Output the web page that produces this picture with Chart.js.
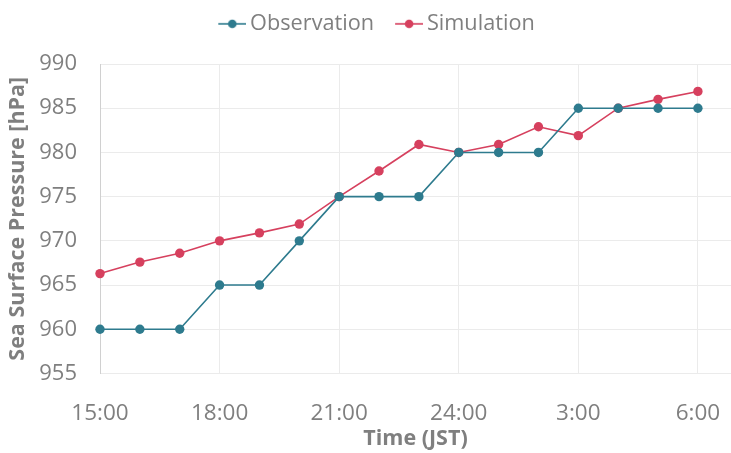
<!DOCTYPE html>
<html>
<head>
<meta charset="utf-8">
<script src="https://cdn.jsdelivr.net/npm/chart.js@4/dist/chart.umd.min.js"></script>
<style>
  html, body { margin: 0; padding: 0; background: #ffffff; }
  #wrap { width: 731px; height: 453px; }
</style>
</head>
<body>
<div id="wrap"><canvas id="c" width="731" height="453"></canvas></div>
<script>
// Hours since 15:00 JST (15:00 ... 6:00 next day)
const hours = [0, 1, 2, 3, 4, 5, 6, 7, 8, 9, 10, 11, 12, 13, 14, 15];
// Sea surface pressure [hPa]
const observation = [960, 960, 960, 965, 965, 970, 975, 975, 975, 980, 980, 980, 985, 985, 985, 985];
const simulation  = [966.3, 967.6, 968.6, 970, 970.9, 971.9, 975, 977.9, 980.9, 980, 980.9, 982.9, 981.9, 985, 986, 986.9];
// Labels shown on the time axis every 3 hours
const tickHours  = [0, 3, 6, 9, 12, 15];
const tickLabels = ['15:00', '18:00', '21:00', '24:00', '3:00', '6:00'];
const yTicks = [955, 960, 965, 970, 975, 980, 985, 990];

const FONT = "'Open Sans', sans-serif";
const GREY = '#7f7f7f';
const OBS_COLOR = '#2e7b8e';
const SIM_COLOR = '#d6405e';

const MARK_BOX = 29;          // legend marker slot width
// Legend marker: short line with a dot, sitting close to its label
function legendMarker(color) {
  const cv = document.createElement('canvas');
  cv.width = MARK_BOX + 14; cv.height = 10;
  const g = cv.getContext('2d');
  const x1 = MARK_BOX + 14, x0 = x1 - 28;
  g.strokeStyle = color; g.lineWidth = 1.6;
  g.beginPath(); g.moveTo(x0, 5); g.lineTo(x1, 5); g.stroke();
  g.fillStyle = color;
  g.beginPath(); g.arc((x0 + x1) / 2, 5, 4.3, 0, Math.PI * 2); g.fill();
  return cv;
}

// Extra room between the legend and the plot area, and a small shift to the right
const legendGap = {
  id: 'legendGap',
  beforeLayout(chart) {
    const lg = chart.legend;
    if (lg && !lg._gapAdded) {
      const fit = lg.fit;
      lg.fit = function () {
        fit.apply(this, arguments);
        this.height += 19.3;
        if (this.lineWidths && this.lineWidths.length) this.lineWidths[0] -= 14;
      };
      lg._gapAdded = true;
    }
  }
};

const toPoints = vals => vals.map((v, i) => ({ x: hours[i], y: v }));

new Chart(document.getElementById('c'), {
  type: 'line',
  data: {
    datasets: [
      {
        label: 'Observation',
        data: toPoints(observation),
        borderColor: OBS_COLOR,
        backgroundColor: OBS_COLOR,
        borderWidth: 1.6,
        pointRadius: 4.7,
        pointBorderWidth: 0,
        pointStyle: 'circle',
        tension: 0,
        clip: false
      },
      {
        label: 'Simulation',
        data: toPoints(simulation),
        borderColor: SIM_COLOR,
        backgroundColor: SIM_COLOR,
        borderWidth: 1.6,
        pointRadius: 4.7,
        pointBorderWidth: 0,
        pointStyle: 'circle',
        tension: 0,
        clip: false
      }
    ]
  },
  options: {
    responsive: false,
    animation: false,
    devicePixelRatio: 1,
    layout: { autoPadding: false, padding: { top: 0, left: 0, right: 0, bottom: 0 } },
    plugins: {
      legend: {
        display: true,
        position: 'top',
        align: 'center',
        labels: {
          usePointStyle: true,
          pointStyleWidth: MARK_BOX,
          padding: 13,
          color: GREY,
          font: { family: FONT, size: 21.7 },
          generateLabels(chart) {
            return chart.data.datasets.map((ds, i) => ({
              text: ds.label,
              fillStyle: ds.borderColor,
              strokeStyle: ds.borderColor,
              fontColor: GREY,
              lineWidth: 0,
              pointStyle: legendMarker(ds.borderColor),
              hidden: false,
              datasetIndex: i
            }));
          }
        }
      },
      tooltip: { enabled: false }
    },
    scales: {
      x: {
        type: 'linear',
        min: 0,
        max: 15.83,
        afterBuildTicks(scale) {
          scale.ticks = tickHours.map(v => ({ value: v }));
        },
        afterFit(scale) {
          scale.height = 79.5;
          scale.paddingLeft = 0;
          scale.paddingRight = 0;
        },
        ticks: {
          padding: 26.5,
          color: GREY,
          font: { family: FONT, size: 22.5 },
          callback(value) {
            const k = tickHours.indexOf(value);
            return k >= 0 ? tickLabels[k] : '';
          }
        },
        grid: { color: '#ebebeb', lineWidth: 1, drawTicks: false },
        border: { display: false },
        title: {
          display: true,
          text: 'Time (JST)',
          color: GREY,
          font: { family: FONT, size: 21.5, weight: 'bold' },
          padding: { top: 0, bottom: 1 }
        }
      },
      y: {
        min: 955,
        max: 990,
        afterBuildTicks(scale) {
          scale.ticks = yTicks.map(v => ({ value: v }));
        },
        afterFit(scale) { scale.width = 100; },
        ticks: {
          padding: 23,
          color: GREY,
          font: { family: FONT, size: 22 }
        },
        grid: { color: '#ebebeb', lineWidth: 1, drawTicks: false },
        border: { display: true, color: '#d0d0d0', width: 1 },
        title: {
          display: true,
          text: 'Sea Surface Pressure [hPa]',
          color: GREY,
          font: { family: FONT, size: 21.5, weight: 'bold' },
          padding: { top: 5, bottom: 0 }
        }
      }
    }
  },
  plugins: [legendGap]
});
</script>
</body>
</html>
